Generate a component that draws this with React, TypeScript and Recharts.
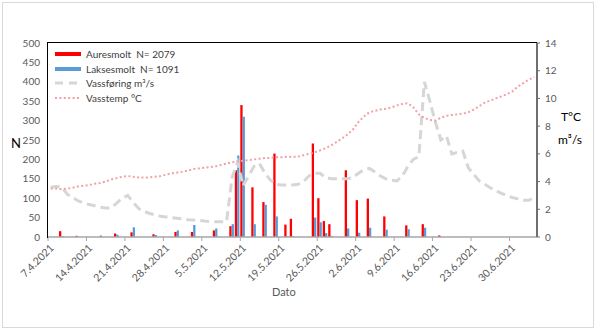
import { ComposedChart, Bar, Line, XAxis, YAxis } from 'recharts';

// one row per day, starting 7.4.2021
const startDay = new Date(2021, 3, 7);
const dayCount = 89;

const aure = [
  0, 0, 15, 0, 0, 3, 0, 0, 0, 0,
  0, 0, 9, 0, 0, 12, 0, 0, 0, 7,
  0, 0, 0, 13, 0, 0, 13, 0, 0, 0,
  17, 0, 0, 28, 172, 340, 0, 128, 0, 90,
  0, 215, 0, 32, 47, 0, 0, 0, 241, 100,
  41, 33, 0, 0, 172, 0, 95, 0, 99, 0,
  0, 53, 0, 0, 0, 30, 0, 0, 33, 0,
  0, 4, 0, 0, 0, 0, 0, 0, 0, 0,
  0, 0, 0, 0, 0, 0, 0, 0, 0,
];

const lakse = [
  0, 0, 2, 0, 0, 0, 0, 0, 0, 4,
  0, 0, 6, 0, 0, 25, 0, 0, 0, 5,
  0, 0, 0, 17, 0, 0, 31, 0, 0, 0,
  22, 0, 0, 33, 210, 310, 0, 33, 0, 83,
  0, 53, 0, 2, 2, 0, 0, 0, 50, 38,
  10, 3, 0, 0, 22, 0, 11, 0, 24, 0,
  0, 19, 0, 0, 0, 20, 0, 0, 24, 0,
  0, 0, 0, 0, 0, 0, 0, 0, 0, 0,
  0, 0, 0, 0, 0, 0, 0, 0, 0,
];

const vassforing = [
  3.6, 3.65, 3.6, 3.1, 2.85, 2.6, 2.45, 2.35, 2.25, 2.15,
  2.1, 2.1, 2.45, 2.8, 3.0, 2.5, 2.05, 1.85, 1.7, 1.6,
  1.5, 1.45, 1.4, 1.35, 1.3, 1.25, 1.22, 1.2, 1.15, 1.12,
  1.1, 1.1, 1.1, 4.3, 5.4, 3.7, 4.4, 5.1, 5.3, 4.6,
  4.1, 3.8, 3.75, 3.75, 3.75, 3.8, 4.0, 4.4, 4.6, 4.6,
  4.3, 4.2, 4.2, 4.2, 4.2, 4.3, 4.6, 4.85, 4.95, 4.7,
  4.4, 4.2, 4.1, 4.05, 4.4, 5.1, 5.6, 5.8, 11.2, 9.8,
  8.3, 7.0, 7.3, 6.0, 6.1, 6.2, 5.0, 4.5, 4.05, 3.8,
  3.55, 3.35, 3.15, 3.0, 2.85, 2.75, 2.65, 2.65, 2.85,
];

const vasstemp = [
  3.5, 3.5, 3.45, 3.5, 3.55, 3.65, 3.7, 3.75, 3.85, 3.9,
  4.0, 4.15, 4.25, 4.35, 4.4, 4.35, 4.3, 4.3, 4.3, 4.35,
  4.4, 4.5, 4.6, 4.65, 4.7, 4.8, 4.9, 4.95, 5.0, 5.05,
  5.1, 5.2, 5.3, 5.4, 5.45, 5.5, 5.55, 5.6, 5.65, 5.7,
  5.7, 5.75, 5.75, 5.8, 5.8, 5.8, 5.9, 6.0, 6.1, 6.25,
  6.4, 6.6, 6.85, 7.1, 7.4, 7.75, 8.3, 8.7, 9.0, 9.1,
  9.2, 9.25, 9.35, 9.5, 9.6, 9.65, 9.35, 8.85, 8.6, 8.45,
  8.4, 8.6, 8.75, 8.8, 8.85, 8.9, 9.0, 9.2, 9.45, 9.7,
  9.85, 10.0, 10.15, 10.3, 10.5, 10.85, 11.1, 11.35, 11.55,
];

const leftTicks = [0, 50, 100, 150, 200, 250, 300, 350, 400, 450, 500];
const rightTicks = [0, 2, 4, 6, 8, 10, 12, 14];

const dateLabel = (i: number) => {
  const d = new Date(startDay);
  d.setDate(d.getDate() + i);
  return `${d.getDate()}.${d.getMonth() + 1}.${d.getFullYear()}`;
};

const rows = Array.from({ length: dayCount }, (_, i) => ({
  dato: dateLabel(i),
  aure: aure[i],
  lakse: lakse[i],
  flow: vassforing[i],
  temp: vasstemp[i],
}));

const PLOT_W = 489;
const BAND = PLOT_W / dayCount;
const FONT = 'Lato, "Open Sans", sans-serif';

// Excel puts the date tick on the left edge of the day's slot
const DateTick = (props: any) => {
  const { x, y, payload } = props;
  const bx = x - BAND / 2;
  const tx = bx + 4;
  const ty = y + 9;
  return (
    <g>
      <line x1={bx} y1={y} x2={bx} y2={y + 4} stroke="#a6a6a6" />
      <text
        x={tx}
        y={ty}
        dy="0.35em"
        textAnchor="end"
        fontSize={10.5}
        fill="#595959"
        fontFamily={FONT}
        transform={`rotate(-45 ${tx} ${ty})`}
      >
        {payload.value}
      </text>
    </g>
  );
};

const legendRows = [
  { label: 'Auresmolt  N= 2079', kind: 'bar', color: '#ff0000' },
  { label: 'Laksesmolt  N= 1091', kind: 'bar', color: '#5b9bd5' },
  { label: 'Vassføring m³/s', kind: 'dash', color: '#d6d6d6' },
  { label: 'Vasstemp °C', kind: 'dot', color: '#f2a0a6' },
];

function Legend() {
  return (
    <div style={{ position: 'absolute', left: 55, top: 47, fontFamily: FONT, fontSize: 10, color: '#404040', whiteSpace: 'pre' }}>
      {legendRows.map((r) => (
        <div key={r.label} style={{ display: 'flex', alignItems: 'center', height: 14.6 }}>
          <svg width={28} height={8} style={{ marginRight: 3 }}>
            {r.kind === 'bar' && <rect x={0} y={2} width={26} height={4} fill={r.color} />}
            {r.kind === 'dash' && (
              <line x1={0} y1={4} x2={26} y2={4} stroke={r.color} strokeWidth={3} strokeDasharray="8 6" />
            )}
            {r.kind === 'dot' && (
              <line x1={0} y1={4} x2={26} y2={4} stroke={r.color} strokeWidth={2} strokeDasharray="2 2.4" />
            )}
          </svg>
          <span>{r.label}</span>
        </div>
      ))}
    </div>
  );
}

export default function App() {
  return (
    <div style={{ position: 'absolute', left: 0, top: 0, width: 596, height: 330, background: '#fff' }}>
      <div style={{ position: 'absolute', left: 2, top: 2, width: 590, height: 324, border: '1px solid #d9d9d9' }} />
      <ComposedChart
        width={596}
        height={330}
        data={rows}
        margin={{ top: 43, right: 0, bottom: 43, left: 0 }}
        barGap={0}
        barCategoryGap={0}
        style={{ position: 'absolute', left: 0, top: 0 }}
      >
        <XAxis
          dataKey="dato"
          interval={6}
          height={50}
          tickSize={0}
          tickMargin={0}
          tick={<DateTick />}
          axisLine={{ stroke: '#a6a6a6', strokeWidth: 1.5 }}
          tickLine={false}
        />
        <YAxis
          yAxisId="n"
          width={48}
          domain={[0, 500]}
          ticks={leftTicks}
          interval={0}
          axisLine={false}
          tickLine={false}
          tick={{ fontSize: 10, fill: '#595959', fontFamily: FONT }}
        />
        <YAxis
          yAxisId="r"
          orientation="right"
          width={59}
          domain={[0, 14]}
          ticks={rightTicks}
          interval={0}
          tickSize={3}
          tickMargin={5}
          axisLine={{ stroke: '#6f6f6f', strokeWidth: 2 }}
          tickLine={{ stroke: '#6f6f6f' }}
          tick={{ fontSize: 10, fill: '#595959', fontFamily: FONT, textAnchor: 'start' }}
        />
        <Bar yAxisId="n" dataKey="aure" fill="#ff0000" barSize={2.3} isAnimationActive={false} />
        <Bar yAxisId="n" dataKey="lakse" fill="#5b9bd5" barSize={2.3} isAnimationActive={false} />
        <Line
          yAxisId="r"
          dataKey="flow"
          type="linear"
          stroke="#d6d6d6"
          strokeWidth={3}
          strokeDasharray="9 5"
          dot={false}
          isAnimationActive={false}
        />
        <Line
          yAxisId="r"
          dataKey="temp"
          type="linear"
          stroke="#f2a0a6"
          strokeWidth={2}
          strokeDasharray="2 2.4"
          dot={false}
          isAnimationActive={false}
        />
      </ComposedChart>
      {/* plot frame: top and left edges are black in the original */}
      <div
        style={{
          position: 'absolute', left: 47, top: 42, width: PLOT_W, height: 195,
          borderTop: '1.5px solid #000', borderLeft: '1.5px solid #000', pointerEvents: 'none',
        }}
      />
      <Legend />
      <div style={{ position: 'absolute', left: 11, top: 135, fontFamily: FONT, fontSize: 13, color: '#000' }}>N</div>
      <div style={{ position: 'absolute', left: 561, top: 109, fontFamily: FONT, fontSize: 12, color: '#000' }}>T°C</div>
      <div style={{ position: 'absolute', left: 558, top: 132, fontFamily: FONT, fontSize: 12, color: '#000' }}>m³/s</div>
      <div style={{ position: 'absolute', left: 272, top: 285, fontFamily: FONT, fontSize: 11, color: '#595959' }}>Dato</div>
    </div>
  );
}
